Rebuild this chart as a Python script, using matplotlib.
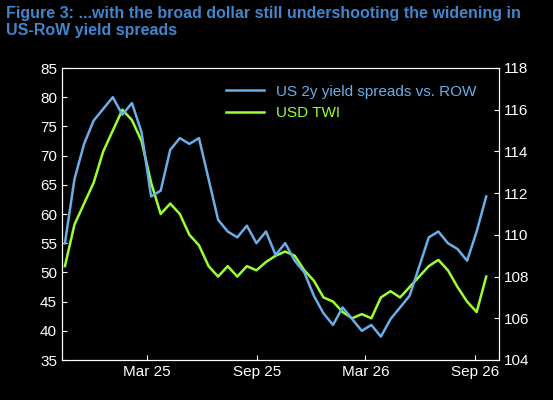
import pandas as pd
import matplotlib.pyplot as plt
import matplotlib.dates as mdates

plt.rcParams['font.family'] = ['Liberation Sans', 'DejaVu Sans']

# semi-monthly readings
dates = pd.date_range("2024-10-15", periods=45, freq="16D")
spread = [55, 66, 72, 76, 78, 80, 77, 79, 74, 63, 64, 71, 73, 72, 73, 66, 59, 57, 56, 58,
          55, 57, 53, 55, 52, 50, 46, 43, 41, 44, 42, 40, 41, 39, 42, 44, 46, 51, 56, 57,
          55, 54, 52, 57, 63]
twi = [108.5, 110.5, 111.5, 112.5, 114, 115, 116, 115.5, 114.5, 112.5, 111, 111.5, 111, 110,
       109.5, 108.5, 108, 108.5, 108, 108.5, 108.3, 108.7, 109, 109.2, 109, 108.3, 107.8, 107,
       106.8, 106.3, 106, 106.2, 106, 107, 107.3, 107, 107.5, 108, 108.5, 108.8, 108.3, 107.5,
       106.8, 106.3, 108]

blue = "#6aaee8"
green = "#99ff33"
title_col = "#3f86cf"

fig = plt.figure(figsize=(5.53, 4.0), dpi=100, facecolor="black")
ax = fig.add_axes([0.112, 0.1, 0.79, 0.73], facecolor="black")
ax2 = ax.twinx()

l1, = ax.plot(dates, spread, color=blue, lw=1.8)
l2, = ax2.plot(dates, twi, color=green, lw=1.8)
ax.set_zorder(ax2.get_zorder() + 1)
ax.patch.set_visible(False)

ax.set_ylim(35, 85)
ax.set_yticks(range(35, 86, 5))
ax2.set_ylim(104, 118)
ax2.set_yticks(range(104, 119, 2))
ax.set_xlim(pd.Timestamp("2024-10-10"), pd.Timestamp("2026-10-10"))
ax.xaxis.set_major_locator(mdates.MonthLocator(bymonth=[3, 9]))
ax.xaxis.set_major_formatter(mdates.DateFormatter("%b %y"))

for a in (ax, ax2):
    a.tick_params(colors="white", labelsize=11, direction="in")
    for s in a.spines.values():
        s.set_color("white")

leg = ax.legend([l1, l2], ["US 2y yield spreads vs. ROW", "USD TWI"], loc="upper right",
                bbox_to_anchor=(0.98, 0.99), frameon=False, fontsize=11, handlelength=2.5)
for t, c in zip(leg.get_texts(), [blue, green]):
    t.set_color(c)

fig.text(0.01, 0.985, "Figure 3: ...with the broad dollar still undershooting the widening in\nUS-RoW yield spreads",
         color=title_col, fontsize=11.5, fontweight="bold", va="top")

fig.savefig("out.png", dpi=100, facecolor="black")
